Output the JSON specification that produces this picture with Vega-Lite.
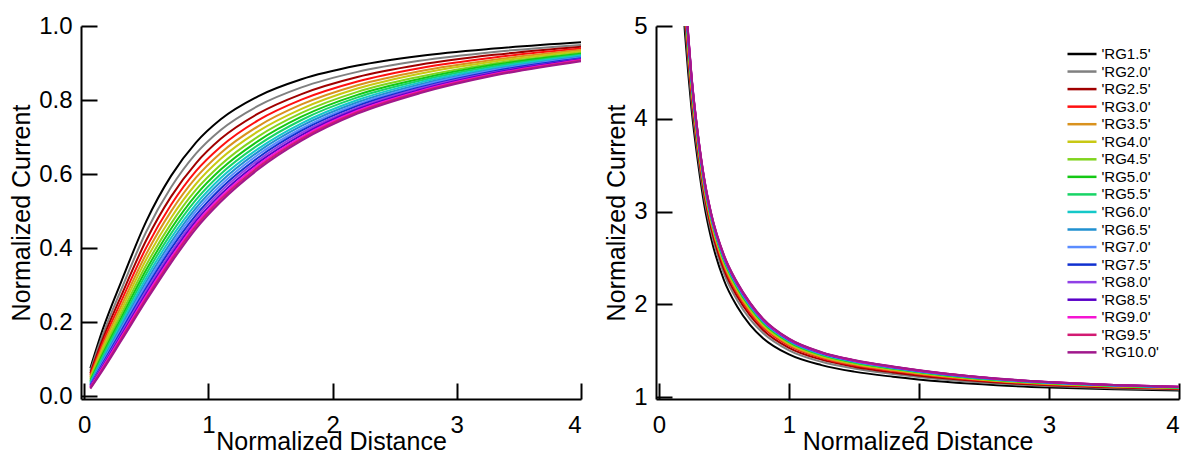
{
  "$schema": "https://vega.github.io/schema/vega-lite/v6.json",
  "background": "white",
  "padding": {"left": 9, "top": 14, "right": 2, "bottom": 0},
  "spacing": 22,
  "config": {
    "font": "Liberation Sans",
    "view": {"stroke": null},
    "axis": {
      "grid": false, "domainColor": "#000", "domainWidth": 2, "tickColor": "#000", "tickWidth": 2, "tickSize": -16,
      "labelFontSize": 24, "titleFontSize": 25, "labelColor": "#000", "titleColor": "#000", "titleFontWeight": "normal",
      "labelFont": "Liberation Sans", "titleFont": "Liberation Sans"
    },
    "axisX": {"labelPadding": 30, "titlePadding": -8},
    "axisY": {"labelPadding": 25, "titlePadding": 4},
    "legend": {"labelFontSize": 15, "labelFont": "Liberation Sans"}
  },
  "resolve": {"legend": {"color": "independent"}},
  "datasets": {
    "L": [
      {"s":"'RG1.5'","x":0.05,"y":0.075},{"s":"'RG1.5'","x":0.15,"y":0.18},{"s":"'RG1.5'","x":0.3,"y":0.31},{"s":"'RG1.5'","x":0.5,"y":0.472},{"s":"'RG1.5'","x":0.7,"y":0.595},{"s":"'RG1.5'","x":0.9,"y":0.685},{"s":"'RG1.5'","x":1.1,"y":0.748},{"s":"'RG1.5'","x":1.4,"y":0.81},{"s":"'RG1.5'","x":1.75,"y":0.856},{"s":"'RG1.5'","x":2.2,"y":0.893},{"s":"'RG1.5'","x":2.7,"y":0.919},{"s":"'RG1.5'","x":3.3,"y":0.939},{"s":"'RG1.5'","x":4.0,"y":0.956},
      {"s":"'RG2.0'","x":0.05,"y":0.068},{"s":"'RG2.0'","x":0.15,"y":0.166},{"s":"'RG2.0'","x":0.3,"y":0.289},{"s":"'RG2.0'","x":0.5,"y":0.444},{"s":"'RG2.0'","x":0.7,"y":0.564},{"s":"'RG2.0'","x":0.9,"y":0.655},{"s":"'RG2.0'","x":1.1,"y":0.719},{"s":"'RG2.0'","x":1.4,"y":0.784},{"s":"'RG2.0'","x":1.75,"y":0.834},{"s":"'RG2.0'","x":2.2,"y":0.876},{"s":"'RG2.0'","x":2.7,"y":0.906},{"s":"'RG2.0'","x":3.3,"y":0.930},{"s":"'RG2.0'","x":4.0,"y":0.949},
      {"s":"'RG2.5'","x":0.05,"y":0.062},{"s":"'RG2.5'","x":0.15,"y":0.154},{"s":"'RG2.5'","x":0.3,"y":0.272},{"s":"'RG2.5'","x":0.5,"y":0.421},{"s":"'RG2.5'","x":0.7,"y":0.539},{"s":"'RG2.5'","x":0.9,"y":0.629},{"s":"'RG2.5'","x":1.1,"y":0.695},{"s":"'RG2.5'","x":1.4,"y":0.763},{"s":"'RG2.5'","x":1.75,"y":0.816},{"s":"'RG2.5'","x":2.2,"y":0.862},{"s":"'RG2.5'","x":2.7,"y":0.895},{"s":"'RG2.5'","x":3.3,"y":0.922},{"s":"'RG2.5'","x":4.0,"y":0.944},
      {"s":"'RG3.0'","x":0.05,"y":0.057},{"s":"'RG3.0'","x":0.15,"y":0.144},{"s":"'RG3.0'","x":0.3,"y":0.257},{"s":"'RG3.0'","x":0.5,"y":0.401},{"s":"'RG3.0'","x":0.7,"y":0.517},{"s":"'RG3.0'","x":0.9,"y":0.608},{"s":"'RG3.0'","x":1.1,"y":0.674},{"s":"'RG3.0'","x":1.4,"y":0.745},{"s":"'RG3.0'","x":1.75,"y":0.801},{"s":"'RG3.0'","x":2.2,"y":0.850},{"s":"'RG3.0'","x":2.7,"y":0.886},{"s":"'RG3.0'","x":3.3,"y":0.915},{"s":"'RG3.0'","x":4.0,"y":0.939},
      {"s":"'RG3.5'","x":0.05,"y":0.052},{"s":"'RG3.5'","x":0.15,"y":0.135},{"s":"'RG3.5'","x":0.3,"y":0.244},{"s":"'RG3.5'","x":0.5,"y":0.384},{"s":"'RG3.5'","x":0.7,"y":0.499},{"s":"'RG3.5'","x":0.9,"y":0.590},{"s":"'RG3.5'","x":1.1,"y":0.657},{"s":"'RG3.5'","x":1.4,"y":0.729},{"s":"'RG3.5'","x":1.75,"y":0.788},{"s":"'RG3.5'","x":2.2,"y":0.840},{"s":"'RG3.5'","x":2.7,"y":0.878},{"s":"'RG3.5'","x":3.3,"y":0.909},{"s":"'RG3.5'","x":4.0,"y":0.935},
      {"s":"'RG4.0'","x":0.05,"y":0.049},{"s":"'RG4.0'","x":0.15,"y":0.127},{"s":"'RG4.0'","x":0.3,"y":0.233},{"s":"'RG4.0'","x":0.5,"y":0.369},{"s":"'RG4.0'","x":0.7,"y":0.482},{"s":"'RG4.0'","x":0.9,"y":0.573},{"s":"'RG4.0'","x":1.1,"y":0.641},{"s":"'RG4.0'","x":1.4,"y":0.715},{"s":"'RG4.0'","x":1.75,"y":0.776},{"s":"'RG4.0'","x":2.2,"y":0.831},{"s":"'RG4.0'","x":2.7,"y":0.871},{"s":"'RG4.0'","x":3.3,"y":0.904},{"s":"'RG4.0'","x":4.0,"y":0.932},
      {"s":"'RG4.5'","x":0.05,"y":0.045},{"s":"'RG4.5'","x":0.15,"y":0.120},{"s":"'RG4.5'","x":0.3,"y":0.222},{"s":"'RG4.5'","x":0.5,"y":0.354},{"s":"'RG4.5'","x":0.7,"y":0.466},{"s":"'RG4.5'","x":0.9,"y":0.557},{"s":"'RG4.5'","x":1.1,"y":0.625},{"s":"'RG4.5'","x":1.4,"y":0.701},{"s":"'RG4.5'","x":1.75,"y":0.765},{"s":"'RG4.5'","x":2.2,"y":0.822},{"s":"'RG4.5'","x":2.7,"y":0.863},{"s":"'RG4.5'","x":3.3,"y":0.899},{"s":"'RG4.5'","x":4.0,"y":0.928},
      {"s":"'RG5.0'","x":0.05,"y":0.041},{"s":"'RG5.0'","x":0.15,"y":0.113},{"s":"'RG5.0'","x":0.3,"y":0.212},{"s":"'RG5.0'","x":0.5,"y":0.341},{"s":"'RG5.0'","x":0.7,"y":0.452},{"s":"'RG5.0'","x":0.9,"y":0.543},{"s":"'RG5.0'","x":1.1,"y":0.612},{"s":"'RG5.0'","x":1.4,"y":0.689},{"s":"'RG5.0'","x":1.75,"y":0.755},{"s":"'RG5.0'","x":2.2,"y":0.814},{"s":"'RG5.0'","x":2.7,"y":0.857},{"s":"'RG5.0'","x":3.3,"y":0.895},{"s":"'RG5.0'","x":4.0,"y":0.925},
      {"s":"'RG5.5'","x":0.05,"y":0.038},{"s":"'RG5.5'","x":0.15,"y":0.107},{"s":"'RG5.5'","x":0.3,"y":0.204},{"s":"'RG5.5'","x":0.5,"y":0.330},{"s":"'RG5.5'","x":0.7,"y":0.439},{"s":"'RG5.5'","x":0.9,"y":0.530},{"s":"'RG5.5'","x":1.1,"y":0.600},{"s":"'RG5.5'","x":1.4,"y":0.678},{"s":"'RG5.5'","x":1.75,"y":0.746},{"s":"'RG5.5'","x":2.2,"y":0.807},{"s":"'RG5.5'","x":2.7,"y":0.852},{"s":"'RG5.5'","x":3.3,"y":0.891},{"s":"'RG5.5'","x":4.0,"y":0.922},
      {"s":"'RG6.0'","x":0.05,"y":0.036},{"s":"'RG6.0'","x":0.15,"y":0.101},{"s":"'RG6.0'","x":0.3,"y":0.196},{"s":"'RG6.0'","x":0.5,"y":0.319},{"s":"'RG6.0'","x":0.7,"y":0.427},{"s":"'RG6.0'","x":0.9,"y":0.518},{"s":"'RG6.0'","x":1.1,"y":0.589},{"s":"'RG6.0'","x":1.4,"y":0.668},{"s":"'RG6.0'","x":1.75,"y":0.737},{"s":"'RG6.0'","x":2.2,"y":0.800},{"s":"'RG6.0'","x":2.7,"y":0.847},{"s":"'RG6.0'","x":3.3,"y":0.887},{"s":"'RG6.0'","x":4.0,"y":0.920},
      {"s":"'RG6.5'","x":0.05,"y":0.033},{"s":"'RG6.5'","x":0.15,"y":0.096},{"s":"'RG6.5'","x":0.3,"y":0.188},{"s":"'RG6.5'","x":0.5,"y":0.309},{"s":"'RG6.5'","x":0.7,"y":0.416},{"s":"'RG6.5'","x":0.9,"y":0.508},{"s":"'RG6.5'","x":1.1,"y":0.579},{"s":"'RG6.5'","x":1.4,"y":0.660},{"s":"'RG6.5'","x":1.75,"y":0.730},{"s":"'RG6.5'","x":2.2,"y":0.794},{"s":"'RG6.5'","x":2.7,"y":0.842},{"s":"'RG6.5'","x":3.3,"y":0.883},{"s":"'RG6.5'","x":4.0,"y":0.917},
      {"s":"'RG7.0'","x":0.05,"y":0.031},{"s":"'RG7.0'","x":0.15,"y":0.092},{"s":"'RG7.0'","x":0.3,"y":0.182},{"s":"'RG7.0'","x":0.5,"y":0.301},{"s":"'RG7.0'","x":0.7,"y":0.407},{"s":"'RG7.0'","x":0.9,"y":0.499},{"s":"'RG7.0'","x":1.1,"y":0.570},{"s":"'RG7.0'","x":1.4,"y":0.652},{"s":"'RG7.0'","x":1.75,"y":0.723},{"s":"'RG7.0'","x":2.2,"y":0.789},{"s":"'RG7.0'","x":2.7,"y":0.838},{"s":"'RG7.0'","x":3.3,"y":0.881},{"s":"'RG7.0'","x":4.0,"y":0.915},
      {"s":"'RG7.5'","x":0.05,"y":0.029},{"s":"'RG7.5'","x":0.15,"y":0.088},{"s":"'RG7.5'","x":0.3,"y":0.176},{"s":"'RG7.5'","x":0.5,"y":0.292},{"s":"'RG7.5'","x":0.7,"y":0.398},{"s":"'RG7.5'","x":0.9,"y":0.489},{"s":"'RG7.5'","x":1.1,"y":0.561},{"s":"'RG7.5'","x":1.4,"y":0.644},{"s":"'RG7.5'","x":1.75,"y":0.717},{"s":"'RG7.5'","x":2.2,"y":0.784},{"s":"'RG7.5'","x":2.7,"y":0.834},{"s":"'RG7.5'","x":3.3,"y":0.878},{"s":"'RG7.5'","x":4.0,"y":0.913},
      {"s":"'RG8.0'","x":0.05,"y":0.027},{"s":"'RG8.0'","x":0.15,"y":0.084},{"s":"'RG8.0'","x":0.3,"y":0.170},{"s":"'RG8.0'","x":0.5,"y":0.285},{"s":"'RG8.0'","x":0.7,"y":0.389},{"s":"'RG8.0'","x":0.9,"y":0.481},{"s":"'RG8.0'","x":1.1,"y":0.553},{"s":"'RG8.0'","x":1.4,"y":0.637},{"s":"'RG8.0'","x":1.75,"y":0.711},{"s":"'RG8.0'","x":2.2,"y":0.779},{"s":"'RG8.0'","x":2.7,"y":0.831},{"s":"'RG8.0'","x":3.3,"y":0.875},{"s":"'RG8.0'","x":4.0,"y":0.911},
      {"s":"'RG8.5'","x":0.05,"y":0.025},{"s":"'RG8.5'","x":0.15,"y":0.080},{"s":"'RG8.5'","x":0.3,"y":0.164},{"s":"'RG8.5'","x":0.5,"y":0.277},{"s":"'RG8.5'","x":0.7,"y":0.381},{"s":"'RG8.5'","x":0.9,"y":0.473},{"s":"'RG8.5'","x":1.1,"y":0.545},{"s":"'RG8.5'","x":1.4,"y":0.630},{"s":"'RG8.5'","x":1.75,"y":0.705},{"s":"'RG8.5'","x":2.2,"y":0.775},{"s":"'RG8.5'","x":2.7,"y":0.827},{"s":"'RG8.5'","x":3.3,"y":0.873},{"s":"'RG8.5'","x":4.0,"y":0.910},
      {"s":"'RG9.0'","x":0.05,"y":0.023},{"s":"'RG9.0'","x":0.15,"y":0.077},{"s":"'RG9.0'","x":0.3,"y":0.160},{"s":"'RG9.0'","x":0.5,"y":0.271},{"s":"'RG9.0'","x":0.7,"y":0.374},{"s":"'RG9.0'","x":0.9,"y":0.466},{"s":"'RG9.0'","x":1.1,"y":0.538},{"s":"'RG9.0'","x":1.4,"y":0.624},{"s":"'RG9.0'","x":1.75,"y":0.700},{"s":"'RG9.0'","x":2.2,"y":0.771},{"s":"'RG9.0'","x":2.7,"y":0.824},{"s":"'RG9.0'","x":3.3,"y":0.870},{"s":"'RG9.0'","x":4.0,"y":0.908},
      {"s":"'RG9.5'","x":0.05,"y":0.022},{"s":"'RG9.5'","x":0.15,"y":0.073},{"s":"'RG9.5'","x":0.3,"y":0.155},{"s":"'RG9.5'","x":0.5,"y":0.264},{"s":"'RG9.5'","x":0.7,"y":0.367},{"s":"'RG9.5'","x":0.9,"y":0.459},{"s":"'RG9.5'","x":1.1,"y":0.532},{"s":"'RG9.5'","x":1.4,"y":0.618},{"s":"'RG9.5'","x":1.75,"y":0.695},{"s":"'RG9.5'","x":2.2,"y":0.767},{"s":"'RG9.5'","x":2.7,"y":0.821},{"s":"'RG9.5'","x":3.3,"y":0.868},{"s":"'RG9.5'","x":4.0,"y":0.907},
      {"s":"'RG10.0'","x":0.05,"y":0.020},{"s":"'RG10.0'","x":0.15,"y":0.070},{"s":"'RG10.0'","x":0.3,"y":0.150},{"s":"'RG10.0'","x":0.5,"y":0.258},{"s":"'RG10.0'","x":0.7,"y":0.360},{"s":"'RG10.0'","x":0.9,"y":0.452},{"s":"'RG10.0'","x":1.1,"y":0.525},{"s":"'RG10.0'","x":1.4,"y":0.612},{"s":"'RG10.0'","x":1.75,"y":0.690},{"s":"'RG10.0'","x":2.2,"y":0.763},{"s":"'RG10.0'","x":2.7,"y":0.818},{"s":"'RG10.0'","x":3.3,"y":0.866},{"s":"'RG10.0'","x":4.0,"y":0.905}
    ],
    "R": [
      {"s":"'RG1.5'","x":0.17,"y":5.55},{"s":"'RG1.5'","x":0.2,"y":4.92},{"s":"'RG1.5'","x":0.225,"y":4.49},{"s":"'RG1.5'","x":0.25,"y":4.11},{"s":"'RG1.5'","x":0.3,"y":3.53},{"s":"'RG1.5'","x":0.35,"y":3.06},{"s":"'RG1.5'","x":0.4,"y":2.72},{"s":"'RG1.5'","x":0.5,"y":2.26},{"s":"'RG1.5'","x":0.6,"y":1.98},{"s":"'RG1.5'","x":0.7,"y":1.78},{"s":"'RG1.5'","x":0.8,"y":1.636},{"s":"'RG1.5'","x":1.0,"y":1.46},{"s":"'RG1.5'","x":1.25,"y":1.345},{"s":"'RG1.5'","x":1.5,"y":1.275},{"s":"'RG1.5'","x":1.8,"y":1.22},{"s":"'RG1.5'","x":2.2,"y":1.165},{"s":"'RG1.5'","x":2.6,"y":1.128},{"s":"'RG1.5'","x":3.0,"y":1.104},{"s":"'RG1.5'","x":3.5,"y":1.085},{"s":"'RG1.5'","x":4.0,"y":1.072},
      {"s":"'RG2.0'","x":0.17,"y":5.706},{"s":"'RG2.0'","x":0.2,"y":5.05},{"s":"'RG2.0'","x":0.225,"y":4.599},{"s":"'RG2.0'","x":0.25,"y":4.204},{"s":"'RG2.0'","x":0.3,"y":3.608},{"s":"'RG2.0'","x":0.35,"y":3.133},{"s":"'RG2.0'","x":0.4,"y":2.79},{"s":"'RG2.0'","x":0.5,"y":2.33},{"s":"'RG2.0'","x":0.6,"y":2.048},{"s":"'RG2.0'","x":0.7,"y":1.842},{"s":"'RG2.0'","x":0.8,"y":1.691},{"s":"'RG2.0'","x":1.0,"y":1.504},{"s":"'RG2.0'","x":1.25,"y":1.381},{"s":"'RG2.0'","x":1.5,"y":1.308},{"s":"'RG2.0'","x":1.8,"y":1.249},{"s":"'RG2.0'","x":2.2,"y":1.188},{"s":"'RG2.0'","x":2.6,"y":1.147},{"s":"'RG2.0'","x":3.0,"y":1.12},{"s":"'RG2.0'","x":3.5,"y":1.097},{"s":"'RG2.0'","x":4.0,"y":1.082},
      {"s":"'RG2.5'","x":0.17,"y":5.802},{"s":"'RG2.5'","x":0.2,"y":5.13},{"s":"'RG2.5'","x":0.225,"y":4.666},{"s":"'RG2.5'","x":0.25,"y":4.261},{"s":"'RG2.5'","x":0.3,"y":3.656},{"s":"'RG2.5'","x":0.35,"y":3.178},{"s":"'RG2.5'","x":0.4,"y":2.833},{"s":"'RG2.5'","x":0.5,"y":2.373},{"s":"'RG2.5'","x":0.6,"y":2.089},{"s":"'RG2.5'","x":0.7,"y":1.881},{"s":"'RG2.5'","x":0.8,"y":1.724},{"s":"'RG2.5'","x":1.0,"y":1.531},{"s":"'RG2.5'","x":1.25,"y":1.404},{"s":"'RG2.5'","x":1.5,"y":1.328},{"s":"'RG2.5'","x":1.8,"y":1.266},{"s":"'RG2.5'","x":2.2,"y":1.203},{"s":"'RG2.5'","x":2.6,"y":1.158},{"s":"'RG2.5'","x":3.0,"y":1.129},{"s":"'RG2.5'","x":3.5,"y":1.105},{"s":"'RG2.5'","x":4.0,"y":1.089},
      {"s":"'RG3.0'","x":0.17,"y":5.88},{"s":"'RG3.0'","x":0.2,"y":5.195},{"s":"'RG3.0'","x":0.225,"y":4.721},{"s":"'RG3.0'","x":0.25,"y":4.308},{"s":"'RG3.0'","x":0.3,"y":3.695},{"s":"'RG3.0'","x":0.35,"y":3.214},{"s":"'RG3.0'","x":0.4,"y":2.869},{"s":"'RG3.0'","x":0.5,"y":2.409},{"s":"'RG3.0'","x":0.6,"y":2.123},{"s":"'RG3.0'","x":0.7,"y":1.912},{"s":"'RG3.0'","x":0.8,"y":1.752},{"s":"'RG3.0'","x":1.0,"y":1.554},{"s":"'RG3.0'","x":1.25,"y":1.422},{"s":"'RG3.0'","x":1.5,"y":1.344},{"s":"'RG3.0'","x":1.8,"y":1.281},{"s":"'RG3.0'","x":2.2,"y":1.215},{"s":"'RG3.0'","x":2.6,"y":1.168},{"s":"'RG3.0'","x":3.0,"y":1.137},{"s":"'RG3.0'","x":3.5,"y":1.111},{"s":"'RG3.0'","x":4.0,"y":1.094},
      {"s":"'RG3.5'","x":0.17,"y":5.928},{"s":"'RG3.5'","x":0.2,"y":5.235},{"s":"'RG3.5'","x":0.225,"y":4.755},{"s":"'RG3.5'","x":0.25,"y":4.337},{"s":"'RG3.5'","x":0.3,"y":3.719},{"s":"'RG3.5'","x":0.35,"y":3.236},{"s":"'RG3.5'","x":0.4,"y":2.89},{"s":"'RG3.5'","x":0.5,"y":2.43},{"s":"'RG3.5'","x":0.6,"y":2.144},{"s":"'RG3.5'","x":0.7,"y":1.931},{"s":"'RG3.5'","x":0.8,"y":1.768},{"s":"'RG3.5'","x":1.0,"y":1.567},{"s":"'RG3.5'","x":1.25,"y":1.433},{"s":"'RG3.5'","x":1.5,"y":1.354},{"s":"'RG3.5'","x":1.8,"y":1.289},{"s":"'RG3.5'","x":2.2,"y":1.222},{"s":"'RG3.5'","x":2.6,"y":1.173},{"s":"'RG3.5'","x":3.0,"y":1.142},{"s":"'RG3.5'","x":3.5,"y":1.115},{"s":"'RG3.5'","x":4.0,"y":1.097},
      {"s":"'RG4.0'","x":0.17,"y":5.97},{"s":"'RG4.0'","x":0.2,"y":5.27},{"s":"'RG4.0'","x":0.225,"y":4.784},{"s":"'RG4.0'","x":0.25,"y":4.362},{"s":"'RG4.0'","x":0.3,"y":3.74},{"s":"'RG4.0'","x":0.35,"y":3.256},{"s":"'RG4.0'","x":0.4,"y":2.909},{"s":"'RG4.0'","x":0.5,"y":2.449},{"s":"'RG4.0'","x":0.6,"y":2.162},{"s":"'RG4.0'","x":0.7,"y":1.948},{"s":"'RG4.0'","x":0.8,"y":1.783},{"s":"'RG4.0'","x":1.0,"y":1.579},{"s":"'RG4.0'","x":1.25,"y":1.443},{"s":"'RG4.0'","x":1.5,"y":1.363},{"s":"'RG4.0'","x":1.8,"y":1.297},{"s":"'RG4.0'","x":2.2,"y":1.228},{"s":"'RG4.0'","x":2.6,"y":1.178},{"s":"'RG4.0'","x":3.0,"y":1.146},{"s":"'RG4.0'","x":3.5,"y":1.118},{"s":"'RG4.0'","x":4.0,"y":1.10},
      {"s":"'RG4.5'","x":0.17,"y":6.003},{"s":"'RG4.5'","x":0.2,"y":5.298},{"s":"'RG4.5'","x":0.225,"y":4.807},{"s":"'RG4.5'","x":0.25,"y":4.382},{"s":"'RG4.5'","x":0.3,"y":3.757},{"s":"'RG4.5'","x":0.35,"y":3.271},{"s":"'RG4.5'","x":0.4,"y":2.924},{"s":"'RG4.5'","x":0.5,"y":2.464},{"s":"'RG4.5'","x":0.6,"y":2.176},{"s":"'RG4.5'","x":0.7,"y":1.961},{"s":"'RG4.5'","x":0.8,"y":1.795},{"s":"'RG4.5'","x":1.0,"y":1.588},{"s":"'RG4.5'","x":1.25,"y":1.451},{"s":"'RG4.5'","x":1.5,"y":1.369},{"s":"'RG4.5'","x":1.8,"y":1.303},{"s":"'RG4.5'","x":2.2,"y":1.233},{"s":"'RG4.5'","x":2.6,"y":1.182},{"s":"'RG4.5'","x":3.0,"y":1.149},{"s":"'RG4.5'","x":3.5,"y":1.12},{"s":"'RG4.5'","x":4.0,"y":1.102},
      {"s":"'RG5.0'","x":0.17,"y":6.03},{"s":"'RG5.0'","x":0.2,"y":5.32},{"s":"'RG5.0'","x":0.225,"y":4.826},{"s":"'RG5.0'","x":0.25,"y":4.398},{"s":"'RG5.0'","x":0.3,"y":3.77},{"s":"'RG5.0'","x":0.35,"y":3.284},{"s":"'RG5.0'","x":0.4,"y":2.936},{"s":"'RG5.0'","x":0.5,"y":2.476},{"s":"'RG5.0'","x":0.6,"y":2.188},{"s":"'RG5.0'","x":0.7,"y":1.972},{"s":"'RG5.0'","x":0.8,"y":1.804},{"s":"'RG5.0'","x":1.0,"y":1.596},{"s":"'RG5.0'","x":1.25,"y":1.457},{"s":"'RG5.0'","x":1.5,"y":1.375},{"s":"'RG5.0'","x":1.8,"y":1.308},{"s":"'RG5.0'","x":2.2,"y":1.237},{"s":"'RG5.0'","x":2.6,"y":1.186},{"s":"'RG5.0'","x":3.0,"y":1.152},{"s":"'RG5.0'","x":3.5,"y":1.123},{"s":"'RG5.0'","x":4.0,"y":1.104},
      {"s":"'RG5.5'","x":0.17,"y":6.051},{"s":"'RG5.5'","x":0.2,"y":5.338},{"s":"'RG5.5'","x":0.225,"y":4.841},{"s":"'RG5.5'","x":0.25,"y":4.411},{"s":"'RG5.5'","x":0.3,"y":3.781},{"s":"'RG5.5'","x":0.35,"y":3.294},{"s":"'RG5.5'","x":0.4,"y":2.945},{"s":"'RG5.5'","x":0.5,"y":2.485},{"s":"'RG5.5'","x":0.6,"y":2.197},{"s":"'RG5.5'","x":0.7,"y":1.98},{"s":"'RG5.5'","x":0.8,"y":1.811},{"s":"'RG5.5'","x":1.0,"y":1.602},{"s":"'RG5.5'","x":1.25,"y":1.462},{"s":"'RG5.5'","x":1.5,"y":1.379},{"s":"'RG5.5'","x":1.8,"y":1.312},{"s":"'RG5.5'","x":2.2,"y":1.24},{"s":"'RG5.5'","x":2.6,"y":1.188},{"s":"'RG5.5'","x":3.0,"y":1.154},{"s":"'RG5.5'","x":3.5,"y":1.124},{"s":"'RG5.5'","x":4.0,"y":1.105},
      {"s":"'RG6.0'","x":0.17,"y":6.066},{"s":"'RG6.0'","x":0.2,"y":5.35},{"s":"'RG6.0'","x":0.225,"y":4.851},{"s":"'RG6.0'","x":0.25,"y":4.42},{"s":"'RG6.0'","x":0.3,"y":3.788},{"s":"'RG6.0'","x":0.35,"y":3.301},{"s":"'RG6.0'","x":0.4,"y":2.952},{"s":"'RG6.0'","x":0.5,"y":2.492},{"s":"'RG6.0'","x":0.6,"y":2.204},{"s":"'RG6.0'","x":0.7,"y":1.986},{"s":"'RG6.0'","x":0.8,"y":1.817},{"s":"'RG6.0'","x":1.0,"y":1.606},{"s":"'RG6.0'","x":1.25,"y":1.465},{"s":"'RG6.0'","x":1.5,"y":1.383},{"s":"'RG6.0'","x":1.8,"y":1.315},{"s":"'RG6.0'","x":2.2,"y":1.242},{"s":"'RG6.0'","x":2.6,"y":1.19},{"s":"'RG6.0'","x":3.0,"y":1.156},{"s":"'RG6.0'","x":3.5,"y":1.125},{"s":"'RG6.0'","x":4.0,"y":1.106},
      {"s":"'RG6.5'","x":0.17,"y":6.081},{"s":"'RG6.5'","x":0.2,"y":5.363},{"s":"'RG6.5'","x":0.225,"y":4.862},{"s":"'RG6.5'","x":0.25,"y":4.429},{"s":"'RG6.5'","x":0.3,"y":3.796},{"s":"'RG6.5'","x":0.35,"y":3.308},{"s":"'RG6.5'","x":0.4,"y":2.959},{"s":"'RG6.5'","x":0.5,"y":2.499},{"s":"'RG6.5'","x":0.6,"y":2.21},{"s":"'RG6.5'","x":0.7,"y":1.992},{"s":"'RG6.5'","x":0.8,"y":1.822},{"s":"'RG6.5'","x":1.0,"y":1.61},{"s":"'RG6.5'","x":1.25,"y":1.469},{"s":"'RG6.5'","x":1.5,"y":1.386},{"s":"'RG6.5'","x":1.8,"y":1.317},{"s":"'RG6.5'","x":2.2,"y":1.245},{"s":"'RG6.5'","x":2.6,"y":1.192},{"s":"'RG6.5'","x":3.0,"y":1.157},{"s":"'RG6.5'","x":3.5,"y":1.127},{"s":"'RG6.5'","x":4.0,"y":1.107},
      {"s":"'RG7.0'","x":0.17,"y":6.093},{"s":"'RG7.0'","x":0.2,"y":5.373},{"s":"'RG7.0'","x":0.225,"y":4.87},{"s":"'RG7.0'","x":0.25,"y":4.436},{"s":"'RG7.0'","x":0.3,"y":3.802},{"s":"'RG7.0'","x":0.35,"y":3.313},{"s":"'RG7.0'","x":0.4,"y":2.964},{"s":"'RG7.0'","x":0.5,"y":2.504},{"s":"'RG7.0'","x":0.6,"y":2.215},{"s":"'RG7.0'","x":0.7,"y":1.997},{"s":"'RG7.0'","x":0.8,"y":1.826},{"s":"'RG7.0'","x":1.0,"y":1.614},{"s":"'RG7.0'","x":1.25,"y":1.472},{"s":"'RG7.0'","x":1.5,"y":1.388},{"s":"'RG7.0'","x":1.8,"y":1.32},{"s":"'RG7.0'","x":2.2,"y":1.246},{"s":"'RG7.0'","x":2.6,"y":1.193},{"s":"'RG7.0'","x":3.0,"y":1.158},{"s":"'RG7.0'","x":3.5,"y":1.128},{"s":"'RG7.0'","x":4.0,"y":1.108},
      {"s":"'RG7.5'","x":0.17,"y":6.105},{"s":"'RG7.5'","x":0.2,"y":5.383},{"s":"'RG7.5'","x":0.225,"y":4.879},{"s":"'RG7.5'","x":0.25,"y":4.443},{"s":"'RG7.5'","x":0.3,"y":3.808},{"s":"'RG7.5'","x":0.35,"y":3.319},{"s":"'RG7.5'","x":0.4,"y":2.97},{"s":"'RG7.5'","x":0.5,"y":2.51},{"s":"'RG7.5'","x":0.6,"y":2.221},{"s":"'RG7.5'","x":0.7,"y":2.002},{"s":"'RG7.5'","x":0.8,"y":1.83},{"s":"'RG7.5'","x":1.0,"y":1.617},{"s":"'RG7.5'","x":1.25,"y":1.475},{"s":"'RG7.5'","x":1.5,"y":1.391},{"s":"'RG7.5'","x":1.8,"y":1.322},{"s":"'RG7.5'","x":2.2,"y":1.248},{"s":"'RG7.5'","x":2.6,"y":1.195},{"s":"'RG7.5'","x":3.0,"y":1.16},{"s":"'RG7.5'","x":3.5,"y":1.128},{"s":"'RG7.5'","x":4.0,"y":1.109},
      {"s":"'RG8.0'","x":0.17,"y":6.114},{"s":"'RG8.0'","x":0.2,"y":5.39},{"s":"'RG8.0'","x":0.225,"y":4.885},{"s":"'RG8.0'","x":0.25,"y":4.448},{"s":"'RG8.0'","x":0.3,"y":3.812},{"s":"'RG8.0'","x":0.35,"y":3.323},{"s":"'RG8.0'","x":0.4,"y":2.974},{"s":"'RG8.0'","x":0.5,"y":2.514},{"s":"'RG8.0'","x":0.6,"y":2.224},{"s":"'RG8.0'","x":0.7,"y":2.006},{"s":"'RG8.0'","x":0.8,"y":1.833},{"s":"'RG8.0'","x":1.0,"y":1.62},{"s":"'RG8.0'","x":1.25,"y":1.477},{"s":"'RG8.0'","x":1.5,"y":1.393},{"s":"'RG8.0'","x":1.8,"y":1.323},{"s":"'RG8.0'","x":2.2,"y":1.25},{"s":"'RG8.0'","x":2.6,"y":1.196},{"s":"'RG8.0'","x":3.0,"y":1.16},{"s":"'RG8.0'","x":3.5,"y":1.129},{"s":"'RG8.0'","x":4.0,"y":1.11},
      {"s":"'RG8.5'","x":0.17,"y":6.123},{"s":"'RG8.5'","x":0.2,"y":5.398},{"s":"'RG8.5'","x":0.225,"y":4.891},{"s":"'RG8.5'","x":0.25,"y":4.454},{"s":"'RG8.5'","x":0.3,"y":3.817},{"s":"'RG8.5'","x":0.35,"y":3.327},{"s":"'RG8.5'","x":0.4,"y":2.978},{"s":"'RG8.5'","x":0.5,"y":2.518},{"s":"'RG8.5'","x":0.6,"y":2.228},{"s":"'RG8.5'","x":0.7,"y":2.009},{"s":"'RG8.5'","x":0.8,"y":1.837},{"s":"'RG8.5'","x":1.0,"y":1.622},{"s":"'RG8.5'","x":1.25,"y":1.479},{"s":"'RG8.5'","x":1.5,"y":1.394},{"s":"'RG8.5'","x":1.8,"y":1.325},{"s":"'RG8.5'","x":2.2,"y":1.251},{"s":"'RG8.5'","x":2.6,"y":1.197},{"s":"'RG8.5'","x":3.0,"y":1.161},{"s":"'RG8.5'","x":3.5,"y":1.13},{"s":"'RG8.5'","x":4.0,"y":1.11},
      {"s":"'RG9.0'","x":0.17,"y":6.132},{"s":"'RG9.0'","x":0.2,"y":5.405},{"s":"'RG9.0'","x":0.225,"y":4.897},{"s":"'RG9.0'","x":0.25,"y":4.459},{"s":"'RG9.0'","x":0.3,"y":3.821},{"s":"'RG9.0'","x":0.35,"y":3.332},{"s":"'RG9.0'","x":0.4,"y":2.982},{"s":"'RG9.0'","x":0.5,"y":2.522},{"s":"'RG9.0'","x":0.6,"y":2.232},{"s":"'RG9.0'","x":0.7,"y":2.013},{"s":"'RG9.0'","x":0.8,"y":1.84},{"s":"'RG9.0'","x":1.0,"y":1.625},{"s":"'RG9.0'","x":1.25,"y":1.481},{"s":"'RG9.0'","x":1.5,"y":1.396},{"s":"'RG9.0'","x":1.8,"y":1.327},{"s":"'RG9.0'","x":2.2,"y":1.252},{"s":"'RG9.0'","x":2.6,"y":1.198},{"s":"'RG9.0'","x":3.0,"y":1.162},{"s":"'RG9.0'","x":3.5,"y":1.131},{"s":"'RG9.0'","x":4.0,"y":1.111},
      {"s":"'RG9.5'","x":0.17,"y":6.141},{"s":"'RG9.5'","x":0.2,"y":5.413},{"s":"'RG9.5'","x":0.225,"y":4.904},{"s":"'RG9.5'","x":0.25,"y":4.465},{"s":"'RG9.5'","x":0.3,"y":3.826},{"s":"'RG9.5'","x":0.35,"y":3.336},{"s":"'RG9.5'","x":0.4,"y":2.986},{"s":"'RG9.5'","x":0.5,"y":2.526},{"s":"'RG9.5'","x":0.6,"y":2.236},{"s":"'RG9.5'","x":0.7,"y":2.016},{"s":"'RG9.5'","x":0.8,"y":1.843},{"s":"'RG9.5'","x":1.0,"y":1.627},{"s":"'RG9.5'","x":1.25,"y":1.483},{"s":"'RG9.5'","x":1.5,"y":1.398},{"s":"'RG9.5'","x":1.8,"y":1.328},{"s":"'RG9.5'","x":2.2,"y":1.254},{"s":"'RG9.5'","x":2.6,"y":1.199},{"s":"'RG9.5'","x":3.0,"y":1.163},{"s":"'RG9.5'","x":3.5,"y":1.131},{"s":"'RG9.5'","x":4.0,"y":1.111},
      {"s":"'RG10.0'","x":0.17,"y":6.15},{"s":"'RG10.0'","x":0.2,"y":5.42},{"s":"'RG10.0'","x":0.225,"y":4.91},{"s":"'RG10.0'","x":0.25,"y":4.47},{"s":"'RG10.0'","x":0.3,"y":3.83},{"s":"'RG10.0'","x":0.35,"y":3.34},{"s":"'RG10.0'","x":0.4,"y":2.99},{"s":"'RG10.0'","x":0.5,"y":2.53},{"s":"'RG10.0'","x":0.6,"y":2.24},{"s":"'RG10.0'","x":0.7,"y":2.02},{"s":"'RG10.0'","x":0.8,"y":1.846},{"s":"'RG10.0'","x":1.0,"y":1.63},{"s":"'RG10.0'","x":1.25,"y":1.485},{"s":"'RG10.0'","x":1.5,"y":1.40},{"s":"'RG10.0'","x":1.8,"y":1.33},{"s":"'RG10.0'","x":2.2,"y":1.255},{"s":"'RG10.0'","x":2.6,"y":1.20},{"s":"'RG10.0'","x":3.0,"y":1.164},{"s":"'RG10.0'","x":3.5,"y":1.132},{"s":"'RG10.0'","x":4.0,"y":1.112}
    ]
  },
  "hconcat": [
    {
      "width": 500, "height": 373,
      "data": {"name": "L"},
      "mark": {"type": "line", "interpolate": "monotone", "strokeWidth": 2, "clip": true},
      "encoding": {
        "x": {"field": "x", "type": "quantitative", "scale": {"domain": [-0.025, 4], "nice": false, "zero": false},
              "axis": {"values": [0, 1, 2, 3, 4], "title": "Normalized Distance"}},
        "y": {"field": "y", "type": "quantitative", "scale": {"domain": [-0.008, 1], "nice": false, "zero": false},
              "axis": {"values": [0, 0.2, 0.4, 0.6, 0.8, 1.0], "format": ".1f", "title": "Normalized Current"}},
        "color": {"field": "s", "type": "nominal", "legend": null,
          "scale": {
            "domain": ["'RG1.5'","'RG2.0'","'RG2.5'","'RG3.0'","'RG3.5'","'RG4.0'","'RG4.5'","'RG5.0'","'RG5.5'","'RG6.0'","'RG6.5'","'RG7.0'","'RG7.5'","'RG8.0'","'RG8.5'","'RG9.0'","'RG9.5'","'RG10.0'"],
            "range": ["#000000","#808080","#a00000","#ff1010","#d9921e","#c8c814","#80d41e","#14c814","#18d466","#14c8c8","#2090d0","#5a8cff","#1030d0","#9040e6","#5a00c8","#f514d2","#d21a72","#a0188c"]
          }}
      }
    },
    {
      "width": 523, "height": 373,
      "data": {"name": "R"},
      "mark": {"type": "line", "interpolate": "monotone", "strokeWidth": 2, "clip": true},
      "encoding": {
        "x": {"field": "x", "type": "quantitative", "scale": {"domain": [-0.023, 4], "nice": false, "zero": false},
              "axis": {"values": [0, 1, 2, 3, 4], "title": "Normalized Distance"}},
        "y": {"field": "y", "type": "quantitative", "scale": {"domain": [0.98, 5], "nice": false, "zero": false},
              "axis": {"values": [1, 2, 3, 4, 5], "format": "d", "title": "Normalized Current"}},
        "color": {"field": "s", "type": "nominal",
          "scale": {
            "domain": ["'RG1.5'","'RG2.0'","'RG2.5'","'RG3.0'","'RG3.5'","'RG4.0'","'RG4.5'","'RG5.0'","'RG5.5'","'RG6.0'","'RG6.5'","'RG7.0'","'RG7.5'","'RG8.0'","'RG8.5'","'RG9.0'","'RG9.5'","'RG10.0'"],
            "range": ["#000000","#808080","#a00000","#ff1010","#d9921e","#c8c814","#80d41e","#14c814","#18d466","#14c8c8","#2090d0","#5a8cff","#1030d0","#9040e6","#5a00c8","#f514d2","#d21a72","#a0188c"]
          },
          "legend": {"orient": "none", "legendX": 418.5, "legendY": 20.5, "title": null, "padding": 0,
            "symbolType": "M-2.417,0H2.417", "symbolSize": 144, "symbolStrokeWidth": 2.5,
            "labelFontSize": 15, "labelFont": "Liberation Sans", "labelColor": "#000", "labelOffset": 12, "rowPadding": 1.55}}
      }
    }
  ]
}
